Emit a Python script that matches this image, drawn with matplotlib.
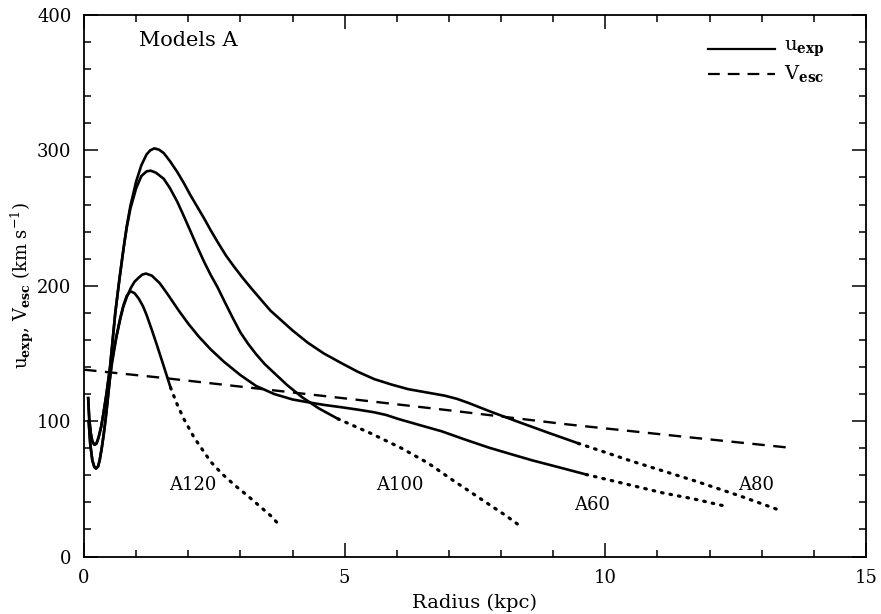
import numpy as np
import matplotlib
matplotlib.use("Agg")
import matplotlib.pyplot as plt
from matplotlib.ticker import MultipleLocator

plt.rcParams['font.family'] = ['DejaVu Serif']
plt.rcParams['mathtext.fontset'] = 'dejavuserif'

# escape velocity (dashed)
r_esc = [0.0, 1.5, 3.0, 4.5, 5.3, 7.0, 9.27, 11.5, 13.5]
v_esc = [138, 132, 125.5, 119, 115.5, 108, 97.6, 88.5, 80.5]

# model A80 (solid part, then dotted tail)
r_a80 = [0.08, 0.1, 0.13, 0.16, 0.2, 0.24, 0.28, 0.33, 0.37, 0.43, 0.5, 0.55, 0.6, 0.68, 0.76,
         0.82, 0.89, 1.0, 1.1, 1.2, 1.27, 1.35, 1.44, 1.53, 1.65, 1.79, 1.92, 2.04, 2.17, 2.3,
         2.43, 2.56, 2.72, 2.88, 3.04, 3.2, 3.4, 3.58, 4.0, 4.29, 4.6, 4.93, 5.25, 5.57, 5.9,
         6.22, 6.6, 6.92, 7.15, 7.37, 7.8, 8.34, 8.9, 9.48]
v_a80 = [117, 102, 91, 85, 82.5, 83.5, 88, 96, 105, 120, 140, 160, 180, 205, 228,
         244, 259, 277, 289, 297, 300, 301.5, 300.5, 298, 292, 284, 275.5, 267, 258.5, 250,
         241, 232.5, 222.5, 214, 206, 198.5, 189.5, 181.5, 167, 158, 150, 143, 136.5, 131, 127,
         123.6, 121, 118.8, 116.5, 113.5, 107, 99.3, 91.5, 83.6]
r_a80_tail = [9.48, 10.5, 11.73, 12.6, 13.37]
v_a80_tail = [83.6, 70.5, 55.7, 44.5, 33.8]

# model A100
r_a100 = [0.08, 0.1, 0.13, 0.16, 0.2, 0.24, 0.28, 0.33, 0.37, 0.43, 0.5, 0.55, 0.6, 0.68, 0.76,
          0.82, 0.89, 1.0, 1.1, 1.2, 1.28, 1.38, 1.53, 1.65, 1.79, 1.92, 2.04, 2.17, 2.3,
          2.43, 2.56, 2.7, 2.85, 3.0, 3.15, 3.3, 3.47, 3.65, 3.9, 4.19, 4.5, 4.87]
v_a100 = [117, 102, 91, 85, 82.5, 83.5, 88, 96, 105, 120, 140, 160, 180, 205, 228,
          243, 257, 272, 281, 284.5, 285, 283.5, 279, 272, 262, 251, 240.5, 229, 218,
          208, 199, 188, 176.5, 165.5, 157, 149.5, 142, 135.5, 126.5, 117.5, 109.5, 101.7]
r_a100_tail = [4.87, 5.5, 6.09, 6.6, 7.05, 7.4, 7.76, 8.1, 8.37]
v_a100_tail = [101.7, 91, 80, 69, 57, 48, 38.7, 30, 22.4]

# model A60
r_a60 = [0.09, 0.12, 0.16, 0.2, 0.23, 0.27, 0.3, 0.34, 0.37, 0.41, 0.45, 0.49, 0.53,
         0.56, 0.62, 0.69, 0.75, 0.82, 0.9, 0.97, 1.05, 1.12, 1.19, 1.3, 1.45, 1.6, 1.82,
         2.0, 2.2, 2.43, 2.68, 3.0, 3.3, 3.65, 4.0, 4.29, 4.6, 4.93, 5.25, 5.57, 5.8, 6.02,
         6.4, 6.86, 7.3, 7.76, 8.2, 8.6, 9.1, 9.63]
v_a60 = [100, 83, 71, 66, 65, 66.5, 71, 80, 88, 100, 114, 129, 141,
         148, 162, 174.5, 184, 191.6, 198.5, 203, 206, 208.3, 209, 207.5, 202, 194, 181.5,
         172, 162.5, 153, 144, 134, 126, 120, 116, 114, 112, 110.3, 108.5, 106.5, 104.5, 101.7,
         97.5, 92.5, 86.5, 80.5, 75.5, 71, 66, 60.6]
r_a60_tail = [9.63, 10.4, 11.1, 11.7, 12.24]
v_a60_tail = [60.6, 53.5, 47, 42.5, 37.7]

# model A120
r_a120 = [0.09, 0.12, 0.16, 0.2, 0.23, 0.27, 0.3, 0.34, 0.37, 0.41, 0.45, 0.49, 0.53,
          0.58, 0.63, 0.7, 0.76, 0.82, 0.89, 0.97, 1.05, 1.13, 1.2, 1.3, 1.4, 1.53, 1.66]
v_a120 = [100, 83, 71, 66, 65, 66.5, 71, 80, 88, 100, 114, 129, 143,
          154, 164, 177, 186, 192.5, 196, 194.5, 190.5, 185, 178.5, 167.5, 156, 140.5, 124.8]
r_a120_tail = [1.66, 1.78, 1.91, 2.11, 2.43, 2.65, 2.88, 3.15, 3.39, 3.6, 3.78]
v_a120_tail = [124.8, 113, 102, 88, 70, 61, 53, 44.5, 36.5, 29.5, 21.7]

labels = ["A120", "A100", "A60", "A80"]
label_r = [2.08, 6.05, 9.75, 12.89]
label_v = [52.5, 52.5, 38, 52.5]

fig = plt.figure(figsize=(8.81, 6.14), dpi=100)
ax = fig.add_axes([84 / 881, 57.5 / 614, 782 / 881, 541.5 / 614])

lw = 1.9
dot = (0, (0.5, 2.2))
for r, v, rt, vt in [(r_a80, v_a80, r_a80_tail, v_a80_tail),
                     (r_a100, v_a100, r_a100_tail, v_a100_tail),
                     (r_a60, v_a60, r_a60_tail, v_a60_tail),
                     (r_a120, v_a120, r_a120_tail, v_a120_tail)]:
    ax.plot(r, v, color='black', lw=lw, solid_joinstyle='round')
    ax.plot(rt, vt, color='black', lw=2.3, linestyle=dot, dash_capstyle='round')

ax.plot(r_esc, v_esc, color='black', lw=1.7, dashes=(5.3, 3.6))

for t, x, y in zip(labels, label_r, label_v):
    ax.text(x, y, t, ha='center', va='center', fontsize=13)

ax.text(1.05, 381, "Models A", fontsize=15, va='center', ha='left')

# legend drawn by hand
ax.plot([11.97, 13.26], [375, 375], color='black', lw=1.6)
ax.text(13.42, 375, r"u$_{\mathbf{exp}}$", fontsize=14, va='center')
ax.plot([11.97, 13.26], [356.5, 356.5], color='black', lw=1.6, dashes=(5.3, 3.6))
ax.text(13.42, 356.5, r"V$_{\mathbf{esc}}$", fontsize=14, va='center')

ax.set_xlim(0, 15)
ax.set_ylim(0, 400)
ax.xaxis.set_major_locator(MultipleLocator(5))
ax.xaxis.set_minor_locator(MultipleLocator(1))
ax.yaxis.set_major_locator(MultipleLocator(100))
ax.yaxis.set_minor_locator(MultipleLocator(20))
ax.tick_params(which='both', direction='in', top=True, right=True, width=1.1, labelsize=13)
ax.tick_params(which='major', length=10, pad=9)
ax.tick_params(which='minor', length=5)
for s in ax.spines.values():
    s.set_linewidth(1.3)

ax.set_xlabel("Radius (kpc)", fontsize=14, labelpad=5)
ax.set_ylabel(r"u$_{\mathbf{exp}}$, V$_{\mathbf{esc}}$ (km s$^{-1}$)", fontsize=13)
ax.yaxis.set_label_coords(-0.062, 0.5)

fig.savefig("out.png", dpi=100)
